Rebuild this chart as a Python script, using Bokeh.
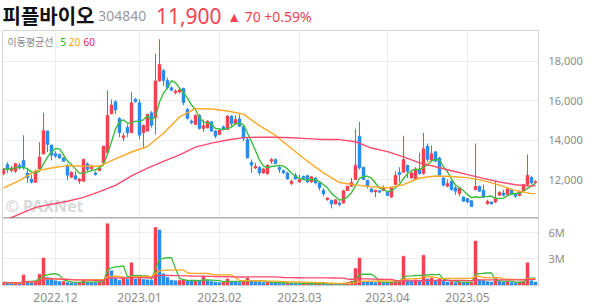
import pandas as pd
from bokeh.plotting import figure
from bokeh.layouts import column
from bokeh.models import (Range1d, LinearAxis, FixedTicker, Label, NumeralTickFormatter,
                          ColumnDataSource, Grid)
from bokeh.embed import file_html
from bokeh.resources import INLINE

# ---------------- data ----------------
opens = [12290, 12760, 12460, 12420, 12730, 12980, 12340, 12030, 11860, 12540,
         13300, 14460, 13750, 13320, 13270, 13100, 12710, 12120, 12200, 11920,
         11920, 12800, 12540, 12340, 12460, 12850, 13360, 15340, 15950, 15100,
         14120, 14660, 14370, 16070, 15900, 14370, 14460, 15390, 15140, 17000,
         17540, 17030, 16660, 16410, 16440, 16630, 15560, 14970, 14800, 15270,
         14590, 14630, 14930, 14460, 14290, 14680, 14540, 15220, 14830, 15080,
         14710, 14030, 12880, 12590, 12630, 12340, 12290, 12930, 13020, 12630,
         12460, 12340, 11800, 12220, 11880, 12170, 12200, 11880, 12080, 11830,
         11460, 10980, 10950, 10760, 10810, 10810, 11440, 11660, 12000, 14200,
         12630, 11970, 11530, 11370, 11440, 11440, 11360, 11120, 11750, 12370,
         12370, 12730, 12080, 12030, 12510, 12310, 13700, 12980, 13410, 13100,
         12080, 11660, 11920, 11580, 11290, 11120, 11030, 10930, 11490, 11660,
         11460, 10780, 10860, 10860, 11200, 11320, 11240, 11490, 11270, 11190,
         11440, 11750, 12120, 11840]
highs = [12590, 12880, 12680, 12850, 12850, 14250, 12560, 12250, 12510, 13900,
         15390, 14490, 13780, 13440, 13330, 13150, 12800, 12420, 12420, 12080,
         13070, 12880, 12760, 12420, 12680, 13700, 16530, 16070, 16020, 15170,
         14370, 14800, 16440, 16150, 16070, 14790, 15340, 15470, 18390, 19120,
         17600, 17170, 16720, 16580, 16630, 16660, 15640, 15050, 15310, 15310,
         15050, 15000, 14970, 14510, 14540, 14750, 15270, 15270, 15270, 15310,
         14750, 14120, 13020, 12850, 12680, 12590, 12760, 13100, 13070, 12680,
         12500, 12390, 12000, 12340, 12250, 12200, 12250, 12170, 12140, 11880,
         11550, 11100, 10980, 11000, 10900, 11460, 11700, 12080, 14560, 14930,
         12650, 11990, 11560, 11490, 11460, 11700, 11400, 11610, 12420, 12630,
         14220, 12760, 12390, 12630, 13360, 14370, 13830, 13730, 13440, 13150,
         12170, 12000, 11950, 11710, 11610, 11150, 11070, 10960, 13830, 11700,
         11750, 10980, 10900, 11920, 11400, 11490, 11560, 11520, 11320, 11440,
         11780, 13270, 12170, 11970]
lows = [12220, 12340, 12370, 12340, 12510, 12510, 11830, 11800, 11830, 12510,
        13270, 13390, 12970, 13100, 13050, 12900, 11970, 12080, 11970, 11780,
        11880, 12420, 12510, 12200, 12420, 12760, 13360, 15310, 15310, 14150,
        13950, 14150, 14370, 15900, 14030, 13580, 14430, 14630, 14290, 16970,
        16750, 16580, 16480, 16330, 16380, 15780, 15050, 14800, 14750, 14540,
        14420, 14590, 14420, 14100, 14250, 14500, 14510, 14710, 14800, 14680,
        13950, 13070, 12340, 12540, 12220, 12290, 12250, 12800, 12800, 12340,
        12290, 12000, 11720, 12000, 11830, 12000, 11830, 11830, 11750, 11450,
        11150, 10930, 10540, 10740, 10640, 10780, 11420, 11630, 11970, 12510,
        11990, 11550, 11350, 11100, 11330, 11420, 11170, 11070, 11720, 11880,
        12340, 12080, 12050, 12000, 12250, 12250, 12880, 12930, 12880, 12170,
        11660, 11610, 11440, 11220, 11150, 10880, 10800, 10620, 11460, 11380,
        11070, 10730, 10740, 10810, 11170, 11150, 11220, 11220, 11070, 11150,
        11420, 11660, 11750, 11800]
closes = [12540, 12510, 12590, 12810, 12590, 12630, 12080, 11860, 12420, 13140,
          14490, 13780, 13240, 13190, 13100, 12930, 12220, 12370, 12030, 12030,
          13020, 12510, 12680, 12250, 12590, 13700, 15270, 15780, 15530, 14370,
          14220, 14370, 15900, 15950, 14250, 14760, 15310, 14750, 17000, 17850,
          17030, 16660, 16530, 16490, 16560, 15900, 15100, 14880, 15270, 14590,
          14730, 14970, 14460, 14200, 14510, 14540, 15220, 14830, 15050, 14710,
          14080, 13100, 12730, 12680, 12340, 12540, 12730, 13020, 12800, 12510,
          12340, 12030, 11920, 12030, 12000, 12050, 11880, 12140, 11830, 11580,
          11270, 11070, 10760, 10980, 10730, 11440, 11660, 11860, 12730, 12590,
          12000, 11660, 11370, 11460, 11360, 11580, 11190, 11580, 12220, 12250,
          13020, 12420, 12340, 12540, 12290, 13560, 13020, 13310, 12930, 12220,
          11710, 11800, 11490, 11410, 11580, 10900, 10860, 10640, 11660, 11410,
          11100, 10900, 10760, 11070, 11360, 11200, 11530, 11240, 11150, 11410,
          11750, 12220, 11830, 11900]
# volume, millions of shares
volumes = [0.30, 0.25, 0.20, 0.22, 0.20, 1.14, 0.35, 0.30, 0.35, 1.24,
           3.08, 0.85, 0.80, 0.50, 0.40, 0.42, 0.30, 0.25, 0.22, 0.30,
           0.55, 0.35, 0.30, 0.28, 0.35, 0.60, 7.00, 1.64, 0.80, 0.55,
           0.92, 0.65, 2.54, 0.70, 0.75, 0.65, 0.60, 0.55, 6.57, 6.30,
           1.28, 0.90, 0.55, 0.50, 0.55, 0.60, 0.50, 0.45, 0.50, 0.45,
           1.00, 0.50, 0.40, 0.35, 0.30, 0.35, 0.70, 0.40, 0.35, 0.30,
           0.45, 0.80, 0.50, 0.40, 0.35, 0.30, 0.35, 0.30, 0.25, 0.22,
           0.20, 0.25, 0.20, 0.18, 0.15, 0.15, 0.18, 0.15, 0.15, 0.18,
           0.15, 0.12, 0.15, 0.12, 0.10, 0.20, 0.30, 0.45, 1.89, 3.08,
           0.45, 0.40, 0.35, 0.30, 0.35, 0.30, 0.25, 0.35, 0.40, 0.50,
           3.30, 0.55, 0.50, 0.60, 0.55, 3.40, 0.70, 0.80, 0.50, 0.75,
           0.45, 0.35, 0.40, 0.30, 0.35, 0.30, 0.25, 0.30, 5.03, 0.60,
           0.55, 0.40, 0.35, 0.75, 0.40, 0.35, 0.40, 0.30, 0.25, 0.30,
           0.40, 2.54, 0.50, 0.35]
# 20- and 60-day price moving averages, read at every 4th session
ma_idx = [0, 4, 8, 12, 16, 20, 24, 28, 32, 36, 40, 44, 48, 52, 56, 60, 64, 68,
          72, 76, 80, 84, 88, 92, 96, 100, 104, 108, 112, 116, 120, 124, 128, 132, 133]
ma20 = [11580, 11950, 12440, 12590, 12710, 12680, 12680, 13050, 13400, 13680,
        14350, 15180, 15600, 15580, 15480, 15320, 14740, 14240, 13580, 12930,
        12340, 11850, 11730, 11640, 11580, 11740, 12080, 12180, 12160, 12100,
        11950, 11720, 11440, 11290, 11290]
ma60 = [9900, 10250, 10590, 10750, 10900, 11100, 11390, 11710, 12190, 12580,
        12920, 13250, 13650, 13850, 14010, 14130, 14150, 14150, 14120, 14080,
        14030, 14030, 13920, 13600, 13420, 13150, 12850, 12650, 12450, 12250,
        12060, 11880, 11740, 11670, 11700]
month_idx = [13, 34, 54, 74, 96, 116]
month_labels = ["2022.12", "2023.01", "2023.02", "2023.03", "2023.04", "2023.05"]
price_ticks = [12000, 14000, 16000, 18000]
vol_ticks = [3, 6]
vol_tick_labels = ["3M", "6M"]

name = "피플바이오"
code = "304840"
last_price = "11,900"
change = "▲ 70 +0.59%"

# ---------------- styles ----------------
UP = "#f5424e"
DOWN = "#2a8cf0"
C5, C20, C60 = "#3cbc3c", "#ffa726", "#ff4a6e"
GRID = "#ededed"
TXT = "#8c8c8c"
FONT = "Noto Sans"
KFONT = "Noto Sans CJK KR"

n = len(closes)
idx = list(range(n))
cs = pd.Series(closes, dtype=float)
ma5 = cs.rolling(5, min_periods=1).mean().tolist()
vs = pd.Series(volumes, dtype=float)
vma5 = vs.rolling(5, min_periods=1).mean().tolist()
vma20 = vs.rolling(20, min_periods=1).mean().tolist()
vma60 = vs.rolling(60, min_periods=1).mean().tolist()

cand_col = [UP if c >= o else DOWN for o, c in zip(opens, closes)]
vol_col = [UP if (i == 0 or volumes[i] >= volumes[i - 1]) else DOWN for i in idx]
src = ColumnDataSource(dict(
    x=idx, o=opens, h=highs, l=lows, c=closes,
    top=[max(o, c) for o, c in zip(opens, closes)],
    bot=[min(o, c) for o, c in zip(opens, closes)],
    col=cand_col, v=volumes, vcol=vol_col,
    ma5=ma5, vma5=vma5, vma20=vma20, vma60=vma60))

xr = Range1d(-0.25, 133.75)

# ---------------- header ----------------
hdr = figure(width=594, height=30, x_range=Range1d(0, 594), y_range=Range1d(30, 0),
             output_backend="svg", toolbar_location=None, min_border=0,
             x_axis_location=None, y_axis_location=None, outline_line_color=None)
hdr.xgrid.visible = False
hdr.ygrid.visible = False
hdr.add_layout(Label(x=0, y=14.5, text=name, text_font=KFONT, text_font_size="20px",
                     text_font_style="bold", text_color="#111111", text_baseline="middle"))
hdr.add_layout(Label(x=106, y=15.5, text=code, text_font=FONT, text_font_size="14px",
                     text_color="#999999", text_baseline="middle"))
hdr.add_layout(Label(x=170, y=15, text=last_price, text_font=FONT, text_font_size="21px",
                     text_color=UP, text_baseline="middle"))
hdr.add_layout(Label(x=249, y=15.5, text=change, text_font=FONT, text_font_size="14px",
                     text_color=UP, text_baseline="middle"))

# ---------------- price panel ----------------
p = figure(width=594, height=188, x_range=xr, y_range=Range1d(10026, 19563),
           output_backend="svg", toolbar_location=None,
           min_border_left=2, min_border_right=56, min_border_top=0, min_border_bottom=0,
           x_axis_location=None, y_axis_location=None, outline_line_color="#d6d6d6")
p.xgrid.visible = False
p.ygrid.visible = False
p.add_layout(Grid(dimension=0, ticker=FixedTicker(ticks=month_idx), grid_line_color=GRID))
p.add_layout(Grid(dimension=1, ticker=FixedTicker(ticks=price_ticks), grid_line_color=GRID))

p.add_layout(Label(x=0.5, y=10640, text="© PAXNet", text_font=FONT, text_font_size="16px",
                   text_font_style="bold", text_color="#d9d9d9", text_baseline="middle",
                   level="underlay"))

p.segment(x0="x", y0="h", x1="x", y1="l", color="col", line_width=1, source=src)
p.vbar(x="x", top="top", bottom="bot", width=0.75, fill_color="col", line_color="col",
       line_width=0.5, source=src)
p.line("x", "ma5", source=src, color=C5, line_width=1.4)
p.line(ma_idx, ma20, color=C20, line_width=1.4)
p.line(ma_idx, ma60, color=C60, line_width=1.4)

ry = LinearAxis(ticker=FixedTicker(ticks=price_ticks), formatter=NumeralTickFormatter(format="0,0"),
                axis_line_color="#d0d0d0", major_tick_line_color=None, minor_tick_line_color=None,
                major_label_text_color=TXT, major_label_text_font=FONT,
                major_label_text_font_size="11px", major_label_standoff=4)
p.add_layout(ry, "right")
bx = LinearAxis(ticker=FixedTicker(ticks=[]), axis_line_color="#444444", axis_line_width=1.5,
                major_tick_line_color=None, minor_tick_line_color=None,
                major_label_text_font_size="0px", major_label_standoff=0)
p.add_layout(bx, "below")

# legend
p.add_layout(Label(x=1.0, y=19000, text="이동평균선", text_font=KFONT, text_font_size="10px",
                   text_color="#888888", text_baseline="middle"))
p.add_layout(Label(x=14.2, y=19000, text="5", text_font=FONT, text_font_size="10px",
                   text_color="#22b022", text_baseline="middle"))
p.add_layout(Label(x=16.3, y=19000, text="20", text_font=FONT, text_font_size="10px",
                   text_color="#ffa31a", text_baseline="middle"))
p.add_layout(Label(x=20.0, y=19000, text="60", text_font=FONT, text_font_size="10px",
                   text_color="#f0245a", text_baseline="middle"))

# ---------------- volume panel ----------------
v = figure(width=594, height=86, x_range=xr, y_range=Range1d(-0.05, 7.6),
           output_backend="svg", toolbar_location=None,
           min_border_left=2, min_border_right=56, min_border_top=0, min_border_bottom=0,
           x_axis_location=None, y_axis_location=None, outline_line_color="#d6d6d6")
v.xgrid.visible = False
v.ygrid.visible = False
v.add_layout(Grid(dimension=0, ticker=FixedTicker(ticks=month_idx), grid_line_color=GRID))
v.add_layout(Grid(dimension=1, ticker=FixedTicker(ticks=vol_ticks), grid_line_color=GRID))
v.vbar(x="x", top="v", bottom=0, width=0.75, fill_color="vcol", line_color="vcol",
       line_width=0.5, source=src)
v.line("x", "vma5", source=src, color=C5, line_width=1.3)
v.line("x", "vma20", source=src, color=C20, line_width=1.3)
v.line("x", "vma60", source=src, color=C60, line_width=1.3)

vy = LinearAxis(ticker=FixedTicker(ticks=vol_ticks),
                major_label_overrides={t: s for t, s in zip(vol_ticks, vol_tick_labels)},
                axis_line_color="#d0d0d0", major_tick_line_color=None, minor_tick_line_color=None,
                major_label_text_color=TXT, major_label_text_font=FONT,
                major_label_text_font_size="11px", major_label_standoff=4)
v.add_layout(vy, "right")
vx = LinearAxis(ticker=FixedTicker(ticks=month_idx),
                major_label_overrides={t: s for t, s in zip(month_idx, month_labels)},
                axis_line_color="#d0d0d0", major_tick_line_color=None, minor_tick_line_color=None,
                major_label_text_color=TXT, major_label_text_font=FONT,
                major_label_text_font_size="12px", major_label_standoff=1)
v.add_layout(vx, "below")

layout = column(hdr, p, v, spacing=0)
open("out.html", "w").write(file_html(layout, INLINE))
